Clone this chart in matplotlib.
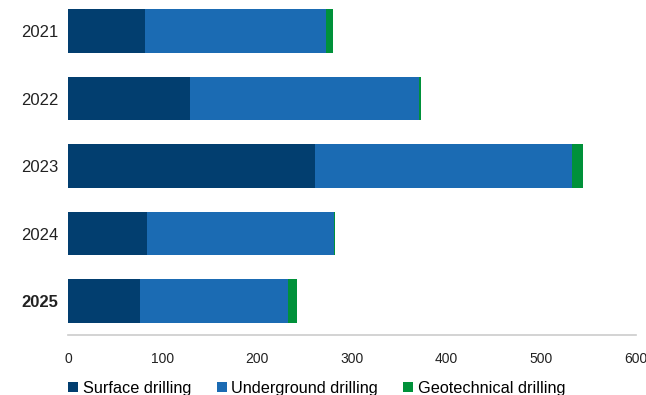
import matplotlib
matplotlib.use("Agg")
import matplotlib.pyplot as plt
import numpy as np

plt.rcParams['font.family'] = ['Liberation Sans', 'DejaVu Sans']

years = ['2021', '2022', '2023', '2024', '2025']
surface = [81, 129, 261, 83.5, 76]
underground = [191.5, 242, 271, 198, 156]
geotechnical = [7, 1.5, 12, 0.5, 9.5]
series_names = ['Surface drilling', 'Underground drilling', 'Geotechnical drilling']
colors = ['#023e6f', '#1b6bb3', '#00913a']

fig = plt.figure(figsize=(6.46, 3.95), dpi=100)
ax = fig.add_axes([68 / 646, 60 / 395, (636 - 68) / 646, 335 / 395])

y = np.arange(len(years))
left = np.zeros(len(years))
for vals, name, c in zip([surface, underground, geotechnical], series_names, colors):
    ax.barh(y, vals, left=left, height=0.645, color=c, label=name)
    left += np.array(vals)

ax.set_ylim(4.5, -0.46)
ax.set_xlim(0, 600)
ax.set_xticks(np.arange(0, 601, 100))
ax.set_yticks(y)
ax.set_yticklabels(years, fontsize=12)
ax.get_yticklabels()[-1].set_fontweight('bold')
ax.tick_params(axis='x', labelsize=10, length=0, pad=12, colors='#222222')
ax.tick_params(axis='y', length=0, pad=7, colors='#222222')
for s in ['top', 'right', 'left']:
    ax.spines[s].set_visible(False)
ax.spines['bottom'].set_color('#cccccc')
ax.spines['bottom'].set_linewidth(1.2)

fig.legend(loc='center left', bbox_to_anchor=(68 / 646, 7 / 395), ncol=3,
           frameon=False, fontsize=11.7, handlelength=0.62, handleheight=0.62,
           handletextpad=0.3, columnspacing=1.55, borderpad=0, borderaxespad=0)

fig.savefig('out.png', dpi=100)
